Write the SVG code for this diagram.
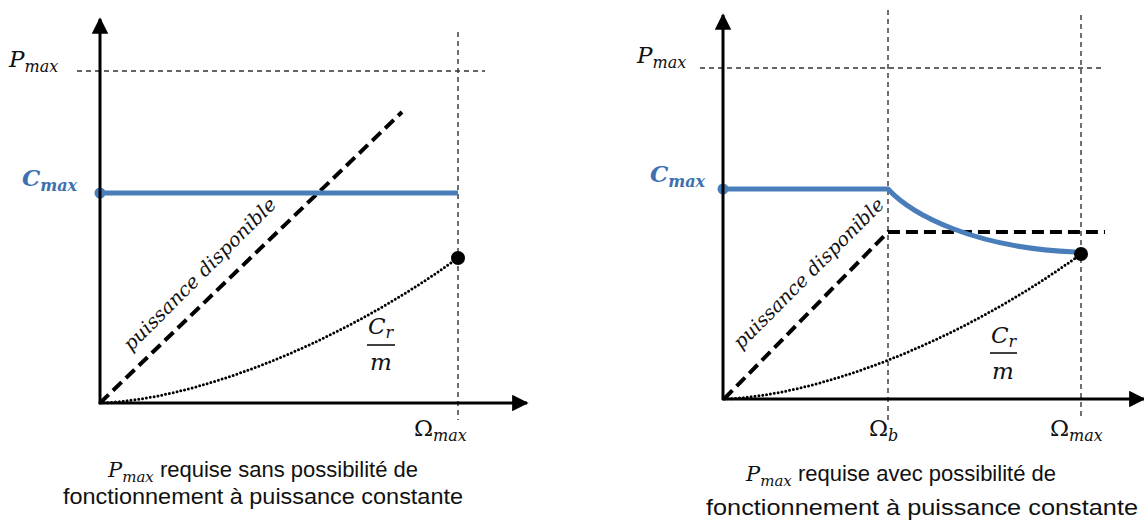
<svg xmlns="http://www.w3.org/2000/svg" width="1144" height="521" viewBox="0 0 1144 521">
<defs>
<marker id="arr" viewBox="0 0 10 10" refX="9" refY="5" markerWidth="6" markerHeight="5.5" markerUnits="strokeWidth" orient="auto">
<path d="M0,0 L10,5 L0,10 z" fill="#000"/>
</marker>
<style>
.axis{stroke:#000;stroke-width:3;fill:none}
.guide{stroke:#333;stroke-width:1.4;stroke-dasharray:5 4;fill:none}
.avail{stroke:#000;stroke-width:4;stroke-dasharray:12 6;fill:none}
.load{stroke:#000;stroke-width:3;stroke-dasharray:0 3.9;stroke-linecap:round;fill:none}
.torque{stroke:#4a7ebb;stroke-width:5;fill:none;stroke-linejoin:round}
.math{font-family:"DejaVu Serif","Liberation Serif",serif;font-style:italic;fill:#111}
.lbl{font-size:23px}
.sub{font-size:16px}
.up{font-style:normal}
.blue{fill:#3e6fb0;font-weight:bold}
.cap{font-family:"Liberation Sans","Noto Sans",sans-serif;font-size:22px;fill:#111}
.capm{font-family:"DejaVu Serif","Liberation Serif",serif;font-style:italic}
</style>
</defs>

<!-- LEFT CHART -->
<g id="left-guides">
<line class="guide" x1="77" y1="71" x2="485" y2="71"/>
<line class="guide" x1="458" y1="32" x2="458" y2="420"/>
</g>
<g id="left-connectors">
<path class="load" d="M100,403 C190,400 330,350 458,258"/>
<line class="avail" x1="100" y1="403" x2="402" y2="112"/>
<line class="torque" x1="100" y1="193" x2="458" y2="193"/>
<circle cx="100" cy="193" r="5.5" fill="#4a7ebb"/>
<circle cx="458" cy="258" r="7" fill="#000"/>
</g>
<g id="left-axes">
<line class="axis" x1="100" y1="404" x2="100" y2="19" marker-end="url(#arr)"/>
<line class="axis" x1="99" y1="403" x2="527" y2="403" marker-end="url(#arr)"/>
</g>
<g id="left-labels">
<text class="math" x="9" y="67"><tspan class="lbl">P</tspan><tspan class="sub" dy="5">max</tspan></text>
<text class="math blue" x="22" y="186"><tspan class="lbl">C</tspan><tspan class="sub" dy="5">max</tspan></text>
<text class="math" x="414" y="436"><tspan class="lbl up">Ω</tspan><tspan class="sub" dy="5">max</tspan></text>
<text class="math" font-size="19" transform="translate(131,352) rotate(-45)" textLength="207" lengthAdjust="spacingAndGlyphs">puissance disponible</text>
<text class="math" x="368" y="334"><tspan class="lbl">C</tspan><tspan class="sub" dy="4">r</tspan></text>
<line x1="367" y1="345" x2="395" y2="345" stroke="#111" stroke-width="1.6"/>
<text class="math lbl" x="381" y="370" text-anchor="middle">m</text>
<text class="cap" x="263" y="477" text-anchor="middle"><tspan class="capm" font-size="21">P</tspan><tspan class="capm" font-size="15" dy="5">max</tspan><tspan dy="-5"> requise sans possibilité de</tspan></text>
<text class="cap" x="263" y="504" text-anchor="middle" textLength="400" lengthAdjust="spacingAndGlyphs">fonctionnement à puissance constante</text>
</g>

<!-- RIGHT CHART -->
<g id="right-guides">
<line class="guide" x1="700" y1="68" x2="1105" y2="68"/>
<line class="guide" x1="888" y1="10" x2="888" y2="420"/>
<line class="guide" x1="1081" y1="15" x2="1081" y2="420"/>
</g>
<g id="right-connectors">
<path class="load" d="M724,399 C814,396 954,346 1081,254"/>
<polyline class="avail" points="724,399 888,232 1105,232"/>
<path class="torque" d="M723,189 L888,189 C912,215 975,248 1075,252"/>
<circle cx="723" cy="189" r="5.5" fill="#4a7ebb"/>
<circle cx="1081" cy="254" r="7" fill="#000"/>
</g>
<g id="right-axes">
<line class="axis" x1="723" y1="400" x2="723" y2="15" marker-end="url(#arr)"/>
<line class="axis" x1="722" y1="399" x2="1144" y2="399" marker-end="url(#arr)"/>
</g>
<g id="right-labels">
<text class="math" x="637" y="63"><tspan class="lbl">P</tspan><tspan class="sub" dy="5">max</tspan></text>
<text class="math blue" x="650" y="182"><tspan class="lbl">C</tspan><tspan class="sub" dy="5">max</tspan></text>
<text class="math" x="869" y="436"><tspan class="lbl up">Ω</tspan><tspan class="sub" dy="5">b</tspan></text>
<text class="math" x="1050" y="436"><tspan class="lbl up">Ω</tspan><tspan class="sub" dy="5">max</tspan></text>
<text class="math" font-size="19" transform="translate(741,350) rotate(-45)" textLength="204" lengthAdjust="spacingAndGlyphs">puissance disponible</text>
<text class="math" x="991" y="343"><tspan class="lbl">C</tspan><tspan class="sub" dy="4">r</tspan></text>
<line x1="990" y1="353" x2="1017" y2="353" stroke="#111" stroke-width="1.6"/>
<text class="math lbl" x="1003" y="379" text-anchor="middle">m</text>
<text class="cap" x="901" y="481" text-anchor="middle"><tspan class="capm" font-size="21">P</tspan><tspan class="capm" font-size="15" dy="5">max</tspan><tspan dy="-5"> requise avec possibilité de</tspan></text>
<text class="cap" x="922" y="515" text-anchor="middle" textLength="432" lengthAdjust="spacingAndGlyphs">fonctionnement à puissance constante</text>
</g>
</svg>
